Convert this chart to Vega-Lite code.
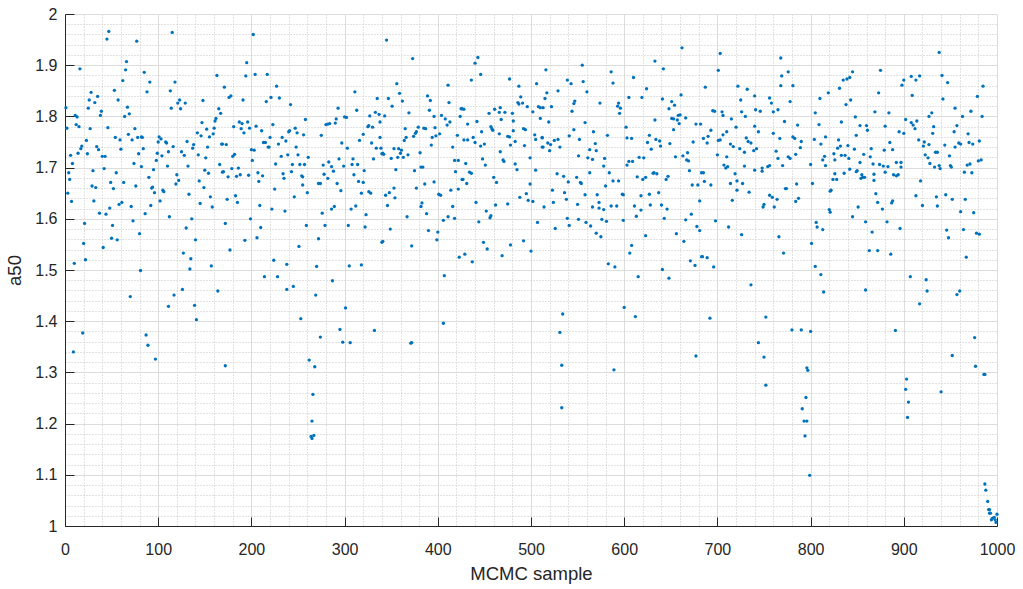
{
"$schema": "https://vega.github.io/schema/vega-lite/v6.json",
"width": 932, "height": 512,
"autosize": {"type": "none"},
"padding": {"left": 65, "top": 14, "right": 26, "bottom": 63},
"background": "white",
"config": {"view": {"stroke": null}, "font": "Liberation Sans"},
"data": {"values": [
{"s":1,"a":1.817},{"s":47,"a":1.966},{"s":45,"a":1.951},{"s":77,"a":1.947},{"s":16,"a":1.893},{"s":66,"a":1.907},{"s":65,"a":1.891},{"s":62,"a":1.870},{"s":53,"a":1.851},{"s":28,"a":1.847},{"s":35,"a":1.839},{"s":26,"a":1.832},{"s":57,"a":1.832},{"s":32,"a":1.827},{"s":25,"a":1.816},{"s":67,"a":1.818},{"s":39,"a":1.810},{"s":11,"a":1.802},{"s":13,"a":1.799},{"s":38,"a":1.802},{"s":64,"a":1.800},{"s":69,"a":1.805},{"s":2,"a":1.777},{"s":12,"a":1.784},{"s":15,"a":1.780},{"s":27,"a":1.776},{"s":46,"a":1.778},{"s":75,"a":1.776},{"s":54,"a":1.759},{"s":68,"a":1.765},{"s":78,"a":1.759},{"s":82,"a":1.760},{"s":59,"a":1.754},{"s":72,"a":1.754},{"s":23,"a":1.753},{"s":18,"a":1.742},{"s":17,"a":1.737},{"s":34,"a":1.741},{"s":36,"a":1.735},{"s":60,"a":1.736},{"s":6,"a":1.724},{"s":14,"a":1.728},{"s":24,"a":1.727},{"s":40,"a":1.722},{"s":43,"a":1.722},{"s":79,"a":1.727},{"s":8,"a":1.708},{"s":74,"a":1.708},{"s":82,"a":1.702},{"s":42,"a":1.698},{"s":4,"a":1.690},{"s":30,"a":1.694},{"s":55,"a":1.690},{"s":5,"a":1.677},{"s":49,"a":1.671},{"s":63,"a":1.671},{"s":29,"a":1.664},{"s":33,"a":1.661},{"s":76,"a":1.664},{"s":52,"a":1.659},{"s":3,"a":1.650},{"s":7,"a":1.634},{"s":31,"a":1.635},{"s":61,"a":1.632},{"s":58,"a":1.628},{"s":71,"a":1.624},{"s":48,"a":1.621},{"s":37,"a":1.611},{"s":44,"a":1.609},{"s":73,"a":1.596},{"s":21,"a":1.591},{"s":51,"a":1.587},{"s":80,"a":1.571},{"s":50,"a":1.562},{"s":56,"a":1.559},{"s":20,"a":1.552},{"s":41,"a":1.544},{"s":22,"a":1.520},{"s":10,"a":1.513},{"s":81,"a":1.499},{"s":70,"a":1.448},{"s":19,"a":1.377},{"s":9,"a":1.340},
{"s":115,"a":1.964},{"s":85,"a":1.886},{"s":91,"a":1.867},{"s":88,"a":1.848},{"s":118,"a":1.867},{"s":113,"a":1.850},{"s":123,"a":1.832},{"s":121,"a":1.826},{"s":129,"a":1.826},{"s":114,"a":1.816},{"s":124,"a":1.815},{"s":148,"a":1.831},{"s":163,"a":1.880},{"s":165,"a":1.815},{"s":167,"a":1.806},{"s":162,"a":1.796},{"s":161,"a":1.791},{"s":147,"a":1.788},{"s":152,"a":1.775},{"s":160,"a":1.777},{"s":142,"a":1.768},{"s":159,"a":1.766},{"s":155,"a":1.760},{"s":146,"a":1.762},{"s":83,"a":1.759},{"s":101,"a":1.760},{"s":103,"a":1.756},{"s":100,"a":1.750},{"s":108,"a":1.750},{"s":109,"a":1.748},{"s":131,"a":1.751},{"s":138,"a":1.745},{"s":116,"a":1.741},{"s":137,"a":1.738},{"s":153,"a":1.740},{"s":168,"a":1.746},{"s":84,"a":1.737},{"s":111,"a":1.731},{"s":125,"a":1.731},{"s":99,"a":1.728},{"s":104,"a":1.723},{"s":128,"a":1.724},{"s":143,"a":1.725},{"s":151,"a":1.719},{"s":98,"a":1.714},{"s":110,"a":1.703},{"s":132,"a":1.703},{"s":166,"a":1.706},{"s":150,"a":1.695},{"s":154,"a":1.689},{"s":120,"a":1.686},{"s":90,"a":1.681},{"s":122,"a":1.675},{"s":119,"a":1.668},{"s":144,"a":1.674},{"s":149,"a":1.661},{"s":94,"a":1.662},{"s":93,"a":1.660},{"s":96,"a":1.651},{"s":105,"a":1.656},{"s":106,"a":1.653},{"s":95,"a":1.696},{"s":156,"a":1.643},{"s":133,"a":1.648},{"s":102,"a":1.635},{"s":145,"a":1.630},{"s":158,"a":1.623},{"s":92,"a":1.626},{"s":86,"a":1.610},{"s":112,"a":1.604},{"s":136,"a":1.600},{"s":130,"a":1.582},{"s":140,"a":1.559},{"s":127,"a":1.533},{"s":135,"a":1.522},{"s":157,"a":1.508},{"s":134,"a":1.502},{"s":164,"a":1.459},{"s":126,"a":1.462},{"s":117,"a":1.451},{"s":111,"a":1.429},{"s":139,"a":1.431},{"s":141,"a":1.403},{"s":87,"a":1.373},{"s":89,"a":1.353},{"s":97,"a":1.326},{"s":169,"a":1.691},
{"s":202,"a":1.960},{"s":195,"a":1.905},{"s":194,"a":1.879},{"s":204,"a":1.882},{"s":217,"a":1.882},{"s":171,"a":1.857},{"s":227,"a":1.859},{"s":176,"a":1.837},{"s":178,"a":1.840},{"s":191,"a":1.832},{"s":216,"a":1.829},{"s":221,"a":1.837},{"s":230,"a":1.836},{"s":242,"a":1.823},{"s":181,"a":1.780},{"s":187,"a":1.789},{"s":190,"a":1.786},{"s":196,"a":1.789},{"s":189,"a":1.776},{"s":192,"a":1.768},{"s":198,"a":1.777},{"s":205,"a":1.781},{"s":211,"a":1.772},{"s":223,"a":1.784},{"s":220,"a":1.759},{"s":233,"a":1.759},{"s":237,"a":1.752},{"s":240,"a":1.770},{"s":241,"a":1.772},{"s":247,"a":1.777},{"s":249,"a":1.768},{"s":169,"a":1.746},{"s":173,"a":1.745},{"s":213,"a":1.749},{"s":215,"a":1.749},{"s":218,"a":1.740},{"s":219,"a":1.740},{"s":229,"a":1.746},{"s":248,"a":1.740},{"s":200,"a":1.735},{"s":203,"a":1.734},{"s":182,"a":1.726},{"s":180,"a":1.722},{"s":232,"a":1.722},{"s":239,"a":1.725},{"s":250,"a":1.725},{"s":201,"a":1.714},{"s":226,"a":1.707},{"s":244,"a":1.706},{"s":252,"a":1.706},{"s":179,"a":1.698},{"s":186,"a":1.699},{"s":170,"a":1.692},{"s":175,"a":1.682},{"s":184,"a":1.683},{"s":188,"a":1.686},{"s":197,"a":1.685},{"s":207,"a":1.690},{"s":212,"a":1.684},{"s":208,"a":1.673},{"s":234,"a":1.688},{"s":235,"a":1.679},{"s":243,"a":1.692},{"s":254,"a":1.684},{"s":225,"a":1.658},{"s":183,"a":1.645},{"s":174,"a":1.638},{"s":185,"a":1.632},{"s":246,"a":1.643},{"s":209,"a":1.626},{"s":222,"a":1.619},{"s":236,"a":1.615},{"s":199,"a":1.600},{"s":172,"a":1.591},{"s":210,"a":1.583},{"s":193,"a":1.558},{"s":206,"a":1.563},{"s":177,"a":1.539},{"s":251,"a":1.546},{"s":224,"a":1.519},{"s":238,"a":1.511},{"s":214,"a":1.487},{"s":228,"a":1.487},{"s":238,"a":1.462},{"s":245,"a":1.468},{"s":253,"a":1.405},{"s":172,"a":1.313},
{"s":311,"a":1.848},{"s":335,"a":1.835},{"s":293,"a":1.816},{"s":313,"a":1.812},{"s":333,"a":1.808},{"s":337,"a":1.804},{"s":258,"a":1.794},{"s":300,"a":1.799},{"s":302,"a":1.798},{"s":291,"a":1.795},{"s":327,"a":1.801},{"s":290,"a":1.787},{"s":284,"a":1.786},{"s":280,"a":1.784},{"s":282,"a":1.785},{"s":325,"a":1.780},{"s":326,"a":1.782},{"s":330,"a":1.779},{"s":338,"a":1.789},{"s":256,"a":1.764},{"s":275,"a":1.763},{"s":320,"a":1.765},{"s":297,"a":1.748},{"s":316,"a":1.753},{"s":329,"a":1.748},{"s":338,"a":1.759},{"s":303,"a":1.738},{"s":334,"a":1.738},{"s":339,"a":1.738},{"s":261,"a":1.720},{"s":331,"a":1.717},{"s":340,"a":1.727},{"s":294,"a":1.717},{"s":309,"a":1.717},{"s":283,"a":1.711},{"s":277,"a":1.705},{"s":286,"a":1.702},{"s":299,"a":1.703},{"s":308,"a":1.706},{"s":314,"a":1.706},{"s":257,"a":1.706},{"s":288,"a":1.693},{"s":321,"a":1.694},{"s":278,"a":1.687},{"s":310,"a":1.686},{"s":255,"a":1.682},{"s":282,"a":1.679},{"s":315,"a":1.673},{"s":320,"a":1.671},{"s":255,"a":1.666},{"s":272,"a":1.669},{"s":274,"a":1.669},{"s":292,"a":1.669},{"s":296,"a":1.655},{"s":260,"a":1.651},{"s":318,"a":1.650},{"s":326,"a":1.653},{"s":328,"a":1.650},{"s":289,"a":1.624},{"s":286,"a":1.619},{"s":312,"a":1.625},{"s":307,"a":1.619},{"s":276,"a":1.611},{"s":323,"a":1.608},{"s":259,"a":1.587},{"s":279,"a":1.587},{"s":304,"a":1.587},{"s":322,"a":1.584},{"s":272,"a":1.561},{"s":270,"a":1.507},{"s":305,"a":1.508},{"s":318,"a":1.510},{"s":287,"a":1.479},{"s":269,"a":1.451},{"s":301,"a":1.426},{"s":295,"a":1.384},{"s":332,"a":1.382},{"s":274,"a":1.369},{"s":298,"a":1.359},{"s":306,"a":1.358},{"s":262,"a":1.324},{"s":268,"a":1.311},{"s":266,"a":1.257},{"s":265,"a":1.205},{"s":264,"a":1.175},{"s":267,"a":1.177},{"s":265,"a":1.171},{"s":340,"a":1.554},
{"s":345,"a":1.949},{"s":373,"a":1.913},{"s":356,"a":1.864},{"s":411,"a":1.861},{"s":359,"a":1.845},{"s":347,"a":1.835},{"s":389,"a":1.840},{"s":392,"a":1.831},{"s":362,"a":1.830},{"s":412,"a":1.827},{"s":351,"a":1.820},{"s":391,"a":1.812},{"s":369,"a":1.807},{"s":425,"a":1.815},{"s":343,"a":1.801},{"s":396,"a":1.800},{"s":404,"a":1.802},{"s":424,"a":1.800},{"s":408,"a":1.795},{"s":413,"a":1.789},{"s":410,"a":1.783},{"s":379,"a":1.779},{"s":385,"a":1.777},{"s":387,"a":1.776},{"s":365,"a":1.776},{"s":397,"a":1.778},{"s":377,"a":1.770},{"s":376,"a":1.767},{"s":402,"a":1.766},{"s":421,"a":1.763},{"s":366,"a":1.759},{"s":374,"a":1.761},{"s":394,"a":1.759},{"s":398,"a":1.762},{"s":364,"a":1.753},{"s":393,"a":1.744},{"s":416,"a":1.740},{"s":341,"a":1.728},{"s":342,"a":1.726},{"s":353,"a":1.737},{"s":358,"a":1.737},{"s":361,"a":1.734},{"s":360,"a":1.728},{"s":368,"a":1.725},{"s":381,"a":1.729},{"s":350,"a":1.718},{"s":357,"a":1.720},{"s":363,"a":1.720},{"s":418,"a":1.714},{"s":422,"a":1.714},{"s":382,"a":1.701},{"s":384,"a":1.701},{"s":355,"a":1.696},{"s":375,"a":1.694},{"s":419,"a":1.692},{"s":426,"a":1.677},{"s":396,"a":1.672},{"s":386,"a":1.668},{"s":377,"a":1.660},{"s":353,"a":1.660},{"s":348,"a":1.651},{"s":344,"a":1.646},{"s":354,"a":1.641},{"s":401,"a":1.648},{"s":403,"a":1.646},{"s":414,"a":1.656},{"s":422,"a":1.658},{"s":383,"a":1.631},{"s":382,"a":1.624},{"s":346,"a":1.626},{"s":416,"a":1.624},{"s":388,"a":1.610},{"s":367,"a":1.604},{"s":411,"a":1.604},{"s":418,"a":1.601},{"s":406,"a":1.597},{"s":349,"a":1.580},{"s":390,"a":1.577},{"s":400,"a":1.574},{"s":399,"a":1.559},{"s":341,"a":1.556},{"s":372,"a":1.547},{"s":423,"a":1.525},{"s":407,"a":1.489},{"s":406,"a":1.396},{"s":371,"a":1.357},{"s":372,"a":1.358},
{"s":443,"a":1.915},{"s":440,"a":1.904},{"s":446,"a":1.882},{"s":477,"a":1.873},{"s":436,"a":1.871},{"s":487,"a":1.859},{"s":506,"a":1.864},{"s":489,"a":1.838},{"s":486,"a":1.827},{"s":487,"a":1.824},{"s":491,"a":1.826},{"s":496,"a":1.819},{"s":508,"a":1.819},{"s":510,"a":1.817},{"s":426,"a":1.815},{"s":428,"a":1.814},{"s":461,"a":1.814},{"s":467,"a":1.817},{"s":466,"a":1.808},{"s":472,"a":1.808},{"s":480,"a":1.806},{"s":455,"a":1.806},{"s":502,"a":1.809},{"s":468,"a":1.794},{"s":481,"a":1.791},{"s":442,"a":1.790},{"s":432,"a":1.785},{"s":510,"a":1.796},{"s":457,"a":1.780},{"s":458,"a":1.776},{"s":459,"a":1.773},{"s":447,"a":1.770},{"s":466,"a":1.766},{"s":481,"a":1.772},{"s":492,"a":1.776},{"s":494,"a":1.774},{"s":475,"a":1.761},{"s":477,"a":1.760},{"s":504,"a":1.764},{"s":438,"a":1.759},{"s":428,"a":1.754},{"s":432,"a":1.754},{"s":440,"a":1.749},{"s":483,"a":1.751},{"s":505,"a":1.755},{"s":512,"a":1.758},{"s":450,"a":1.746},{"s":446,"a":1.742},{"s":478,"a":1.744},{"s":493,"a":1.743},{"s":512,"a":1.740},{"s":467,"a":1.731},{"s":499,"a":1.719},{"s":448,"a":1.717},{"s":470,"a":1.715},{"s":471,"a":1.712},{"s":430,"a":1.708},{"s":451,"a":1.705},{"s":483,"a":1.707},{"s":485,"a":1.696},{"s":505,"a":1.695},{"s":434,"a":1.691},{"s":436,"a":1.689},{"s":460,"a":1.681},{"s":427,"a":1.677},{"s":431,"a":1.669},{"s":463,"a":1.671},{"s":499,"a":1.668},{"s":495,"a":1.649},{"s":488,"a":1.642},{"s":497,"a":1.636},{"s":502,"a":1.634},{"s":441,"a":1.632},{"s":475,"a":1.629},{"s":462,"a":1.627},{"s":452,"a":1.615},{"s":457,"a":1.606},{"s":456,"a":1.602},{"s":444,"a":1.594},{"s":507,"a":1.593},{"s":449,"a":1.554},{"s":492,"a":1.557},{"s":453,"a":1.541},{"s":478,"a":1.549},{"s":500,"a":1.537},{"s":469,"a":1.528},{"s":429,"a":1.531},{"s":437,"a":1.516},
{"s":555,"a":1.900},{"s":516,"a":1.891},{"s":586,"a":1.887},{"s":539,"a":1.871},{"s":543,"a":1.864},{"s":556,"a":1.868},{"s":588,"a":1.865},{"s":529,"a":1.850},{"s":517,"a":1.846},{"s":560,"a":1.848},{"s":515,"a":1.835},{"s":547,"a":1.830},{"s":546,"a":1.825},{"s":574,"a":1.826},{"s":594,"a":1.826},{"s":513,"a":1.817},{"s":522,"a":1.819},{"s":544,"a":1.810},{"s":593,"a":1.820},{"s":596,"a":1.816},{"s":595,"a":1.806},{"s":519,"a":1.789},{"s":558,"a":1.788},{"s":546,"a":1.774},{"s":567,"a":1.770},{"s":541,"a":1.762},{"s":582,"a":1.763},{"s":512,"a":1.759},{"s":529,"a":1.755},{"s":552,"a":1.755},{"s":525,"a":1.753},{"s":518,"a":1.748},{"s":521,"a":1.745},{"s":569,"a":1.747},{"s":513,"a":1.740},{"s":531,"a":1.740},{"s":563,"a":1.735},{"s":570,"a":1.733},{"s":520,"a":1.733},{"s":551,"a":1.723},{"s":561,"a":1.719},{"s":566,"a":1.716},{"s":579,"a":1.718},{"s":578,"a":1.703},{"s":563,"a":1.690},{"s":584,"a":1.690},{"s":528,"a":1.688},{"s":535,"a":1.683},{"s":549,"a":1.681},{"s":540,"a":1.672},{"s":553,"a":1.671},{"s":554,"a":1.669},{"s":588,"a":1.674},{"s":594,"a":1.674},{"s":580,"a":1.664},{"s":523,"a":1.656},{"s":536,"a":1.651},{"s":558,"a":1.647},{"s":571,"a":1.647},{"s":598,"a":1.648},{"s":538,"a":1.638},{"s":573,"a":1.632},{"s":524,"a":1.632},{"s":550,"a":1.628},{"s":566,"a":1.623},{"s":586,"a":1.625},{"s":592,"a":1.625},{"s":573,"a":1.621},{"s":578,"a":1.618},{"s":514,"a":1.623},{"s":539,"a":1.601},{"s":541,"a":1.587},{"s":551,"a":1.599},{"s":559,"a":1.593},{"s":564,"a":1.586},{"s":576,"a":1.599},{"s":581,"a":1.595},{"s":526,"a":1.581},{"s":570,"a":1.572},{"s":575,"a":1.565},{"s":583,"a":1.512},{"s":590,"a":1.506},{"s":534,"a":1.414},{"s":531,"a":1.378},{"s":533,"a":1.314},{"s":589,"a":1.305},{"s":533,"a":1.231},
{"s":662,"a":1.934},{"s":633,"a":1.908},{"s":642,"a":1.893},{"s":610,"a":1.876},{"s":624,"a":1.854},{"s":661,"a":1.842},{"s":605,"a":1.837},{"s":619,"a":1.837},{"s":641,"a":1.834},{"s":651,"a":1.829},{"s":654,"a":1.822},{"s":648,"a":1.815},{"s":658,"a":1.802},{"s":660,"a":1.803},{"s":666,"a":1.797},{"s":651,"a":1.796},{"s":653,"a":1.795},{"s":657,"a":1.793},{"s":633,"a":1.793},{"s":659,"a":1.786},{"s":677,"a":1.785},{"s":682,"a":1.785},{"s":602,"a":1.779},{"s":653,"a":1.774},{"s":627,"a":1.763},{"s":603,"a":1.758},{"s":608,"a":1.757},{"s":634,"a":1.755},{"s":638,"a":1.752},{"s":625,"a":1.749},{"s":674,"a":1.750},{"s":649,"a":1.747},{"s":639,"a":1.742},{"s":629,"a":1.736},{"s":668,"a":1.729},{"s":663,"a":1.723},{"s":655,"a":1.721},{"s":616,"a":1.720},{"s":621,"a":1.719},{"s":667,"a":1.715},{"s":669,"a":1.713},{"s":605,"a":1.712},{"s":609,"a":1.712},{"s":603,"a":1.705},{"s":670,"a":1.694},{"s":683,"a":1.690},{"s":631,"a":1.689},{"s":632,"a":1.690},{"s":635,"a":1.688},{"s":614,"a":1.682},{"s":623,"a":1.681},{"s":620,"a":1.677},{"s":647,"a":1.683},{"s":645,"a":1.677},{"s":673,"a":1.666},{"s":679,"a":1.666},{"s":637,"a":1.651},{"s":627,"a":1.648},{"s":599,"a":1.647},{"s":618,"a":1.645},{"s":681,"a":1.635},{"s":611,"a":1.625},{"s":628,"a":1.627},{"s":640,"a":1.627},{"s":618,"a":1.617},{"s":646,"a":1.619},{"s":672,"a":1.609},{"s":613,"a":1.605},{"s":643,"a":1.601},{"s":666,"a":1.598},{"s":599,"a":1.597},{"s":678,"a":1.585},{"s":681,"a":1.577},{"s":656,"a":1.571},{"s":623,"a":1.567},{"s":664,"a":1.556},{"s":608,"a":1.548},{"s":606,"a":1.533},{"s":683,"a":1.526},{"s":671,"a":1.518},{"s":676,"a":1.509},{"s":641,"a":1.501},{"s":648,"a":1.484},{"s":615,"a":1.487},{"s":600,"a":1.427},{"s":612,"a":1.409},{"s":677,"a":1.332},
{"s":703,"a":1.923},{"s":768,"a":1.914},{"s":701,"a":1.890},{"s":768,"a":1.860},{"s":687,"a":1.857},{"s":722,"a":1.859},{"s":732,"a":1.853},{"s":740,"a":1.840},{"s":756,"a":1.836},{"s":725,"a":1.832},{"s":758,"a":1.826},{"s":695,"a":1.811},{"s":697,"a":1.810},{"s":705,"a":1.809},{"s":706,"a":1.802},{"s":726,"a":1.809},{"s":741,"a":1.813},{"s":746,"a":1.810},{"s":760,"a":1.809},{"s":765,"a":1.813},{"s":730,"a":1.800},{"s":715,"a":1.795},{"s":740,"a":1.781},{"s":720,"a":1.779},{"s":693,"a":1.773},{"s":744,"a":1.770},{"s":710,"a":1.770},{"s":760,"a":1.767},{"s":706,"a":1.764},{"s":685,"a":1.757},{"s":690,"a":1.761},{"s":689,"a":1.748},{"s":731,"a":1.758},{"s":733,"a":1.751},{"s":736,"a":1.748},{"s":714,"a":1.746},{"s":717,"a":1.741},{"s":724,"a":1.737},{"s":729,"a":1.730},{"s":739,"a":1.733},{"s":742,"a":1.737},{"s":763,"a":1.732},{"s":767,"a":1.757},{"s":701,"a":1.753},{"s":703,"a":1.754},{"s":700,"a":1.725},{"s":710,"a":1.721},{"s":765,"a":1.718},{"s":707,"a":1.705},{"s":711,"a":1.702},{"s":709,"a":1.699},{"s":729,"a":1.703},{"s":748,"a":1.699},{"s":754,"a":1.702},{"s":756,"a":1.704},{"s":740,"a":1.695},{"s":748,"a":1.693},{"s":685,"a":1.690},{"s":719,"a":1.688},{"s":686,"a":1.673},{"s":721,"a":1.674},{"s":714,"a":1.669},{"s":727,"a":1.669},{"s":693,"a":1.666},{"s":721,"a":1.656},{"s":734,"a":1.652},{"s":756,"a":1.646},{"s":759,"a":1.642},{"s":764,"a":1.638},{"s":750,"a":1.628},{"s":749,"a":1.623},{"s":761,"a":1.623},{"s":716,"a":1.636},{"s":698,"a":1.596},{"s":712,"a":1.584},{"s":726,"a":1.569},{"s":766,"a":1.565},{"s":684,"a":1.526},{"s":689,"a":1.524},{"s":696,"a":1.506},{"s":736,"a":1.471},{"s":692,"a":1.406},{"s":752,"a":1.408},{"s":744,"a":1.358},{"s":750,"a":1.330},{"s":752,"a":1.275},
{"s":776,"a":1.887},{"s":769,"a":1.879},{"s":781,"a":1.860},{"s":845,"a":1.887},{"s":842,"a":1.876},{"s":839,"a":1.873},{"s":835,"a":1.871},{"s":831,"a":1.855},{"s":819,"a":1.846},{"s":810,"a":1.835},{"s":843,"a":1.832},{"s":778,"a":1.829},{"s":838,"a":1.823},{"s":805,"a":1.807},{"s":848,"a":1.799},{"s":772,"a":1.790},{"s":786,"a":1.783},{"s":809,"a":1.784},{"s":833,"a":1.789},{"s":853,"a":1.782},{"s":849,"a":1.763},{"s":816,"a":1.760},{"s":781,"a":1.760},{"s":783,"a":1.757},{"s":804,"a":1.755},{"s":830,"a":1.754},{"s":790,"a":1.751},{"s":811,"a":1.746},{"s":840,"a":1.743},{"s":832,"a":1.742},{"s":789,"a":1.739},{"s":829,"a":1.738},{"s":847,"a":1.736},{"s":825,"a":1.727},{"s":784,"a":1.726},{"s":833,"a":1.724},{"s":837,"a":1.724},{"s":815,"a":1.722},{"s":776,"a":1.721},{"s":778,"a":1.718},{"s":841,"a":1.718},{"s":813,"a":1.715},{"s":826,"a":1.715},{"s":853,"a":1.710},{"s":850,"a":1.694},{"s":849,"a":1.692},{"s":855,"a":1.686},{"s":842,"a":1.697},{"s":816,"a":1.704},{"s":800,"a":1.706},{"s":770,"a":1.704},{"s":826,"a":1.688},{"s":836,"a":1.689},{"s":824,"a":1.677},{"s":828,"a":1.677},{"s":854,"a":1.679},{"s":785,"a":1.668},{"s":802,"a":1.669},{"s":773,"a":1.659},{"s":774,"a":1.659},{"s":821,"a":1.654},{"s":822,"a":1.656},{"s":787,"a":1.640},{"s":784,"a":1.634},{"s":851,"a":1.623},{"s":845,"a":1.604},{"s":820,"a":1.618},{"s":821,"a":1.613},{"s":806,"a":1.593},{"s":807,"a":1.584},{"s":813,"a":1.579},{"s":801,"a":1.552},{"s":771,"a":1.533},{"s":805,"a":1.507},{"s":811,"a":1.491},{"s":814,"a":1.457},{"s":780,"a":1.383},{"s":790,"a":1.383},{"s":800,"a":1.380},{"s":796,"a":1.309},{"s":797,"a":1.304},{"s":795,"a":1.251},{"s":791,"a":1.229},{"s":793,"a":1.205},{"s":796,"a":1.205},{"s":794,"a":1.176},{"s":799,"a":1.099},
{"s":938,"a":1.925},{"s":875,"a":1.890},{"s":941,"a":1.880},{"s":908,"a":1.878},{"s":917,"a":1.879},{"s":900,"a":1.871},{"s":913,"a":1.871},{"s":898,"a":1.861},{"s":909,"a":1.841},{"s":873,"a":1.846},{"s":869,"a":1.809},{"s":884,"a":1.807},{"s":930,"a":1.807},{"s":927,"a":1.800},{"s":902,"a":1.794},{"s":908,"a":1.788},{"s":910,"a":1.783},{"s":914,"a":1.791},{"s":912,"a":1.776},{"s":932,"a":1.780},{"s":860,"a":1.782},{"s":880,"a":1.781},{"s":861,"a":1.773},{"s":895,"a":1.770},{"s":900,"a":1.767},{"s":931,"a":1.767},{"s":916,"a":1.754},{"s":922,"a":1.750},{"s":885,"a":1.749},{"s":921,"a":1.742},{"s":927,"a":1.745},{"s":865,"a":1.737},{"s":879,"a":1.734},{"s":888,"a":1.735},{"s":857,"a":1.726},{"s":934,"a":1.730},{"s":936,"a":1.730},{"s":864,"a":1.721},{"s":923,"a":1.725},{"s":926,"a":1.719},{"s":928,"a":1.708},{"s":892,"a":1.710},{"s":874,"a":1.706},{"s":878,"a":1.703},{"s":883,"a":1.702},{"s":867,"a":1.707},{"s":897,"a":1.701},{"s":897,"a":1.710},{"s":938,"a":1.704},{"s":939,"a":1.698},{"s":933,"a":1.701},{"s":880,"a":1.691},{"s":868,"a":1.687},{"s":889,"a":1.686},{"s":892,"a":1.684},{"s":894,"a":1.686},{"s":856,"a":1.681},{"s":858,"a":1.681},{"s":868,"a":1.675},{"s":918,"a":1.674},{"s":870,"a":1.649},{"s":913,"a":1.645},{"s":935,"a":1.643},{"s":872,"a":1.632},{"s":887,"a":1.631},{"s":888,"a":1.635},{"s":920,"a":1.626},{"s":936,"a":1.625},{"s":877,"a":1.619},{"s":859,"a":1.594},{"s":882,"a":1.594},{"s":896,"a":1.581},{"s":866,"a":1.574},{"s":863,"a":1.538},{"s":872,"a":1.538},{"s":886,"a":1.531},{"s":907,"a":1.487},{"s":924,"a":1.481},{"s":925,"a":1.459},{"s":859,"a":1.461},{"s":917,"a":1.434},{"s":891,"a":1.382},{"s":903,"a":1.287},{"s":902,"a":1.267},{"s":905,"a":1.242},{"s":904,"a":1.212},{"s":940,"a":1.262},
{"s":947,"a":1.866},{"s":985,"a":1.859},{"s":942,"a":1.834},{"s":979,"a":1.839},{"s":955,"a":1.816},{"s":972,"a":1.810},{"s":963,"a":1.800},{"s":984,"a":1.800},{"s":957,"a":1.782},{"s":954,"a":1.770},{"s":969,"a":1.766},{"s":944,"a":1.744},{"s":955,"a":1.740},{"s":959,"a":1.748},{"s":961,"a":1.746},{"s":970,"a":1.749},{"s":974,"a":1.746},{"s":981,"a":1.752},{"s":949,"a":1.723},{"s":980,"a":1.713},{"s":983,"a":1.715},{"s":950,"a":1.704},{"s":951,"a":1.701},{"s":968,"a":1.705},{"s":971,"a":1.707},{"s":965,"a":1.691},{"s":973,"a":1.690},{"s":945,"a":1.647},{"s":952,"a":1.638},{"s":966,"a":1.638},{"s":961,"a":1.614},{"s":975,"a":1.612},{"s":946,"a":1.578},{"s":964,"a":1.579},{"s":978,"a":1.572},{"s":981,"a":1.570},{"s":948,"a":1.563},{"s":967,"a":1.525},{"s":957,"a":1.452},{"s":960,"a":1.459},{"s":976,"a":1.368},{"s":952,"a":1.333},{"s":977,"a":1.312},{"s":986,"a":1.296},{"s":987,"a":1.296},{"s":987,"a":1.082},{"s":988,"a":1.070},{"s":990,"a":1.048},{"s":991,"a":1.032},{"s":992,"a":1.032},{"s":992,"a":1.025},{"s":993,"a":1.025},{"s":995,"a":1.015},{"s":997,"a":1.017},{"s":998,"a":1.012},{"s":999,"a":1.007},{"s":1000,"a":1.023},{"s":994,"a":1.012}
]},
"layer": [
{
"mark": {"type": "point", "opacity": 0},
"encoding": {
"x": {"field": "s", "type": "quantitative", "scale": {"domain": [0, 1000], "nice": false, "zero": false},
"axis": {"orient": "bottom", "values": [20,40,60,80,120,140,160,180,220,240,260,280,320,340,360,380,420,440,460,480,520,540,560,580,620,640,660,680,720,740,760,780,820,840,860,880,920,940,960,980], "grid": true, "gridColor": "#c4c4c4", "gridDash": [1, 2], "gridWidth": 1, "labels": false, "ticks": false, "domain": false, "title": null}},
"y": {"field": "a", "type": "quantitative", "scale": {"domain": [1, 2], "nice": false, "zero": false},
"axis": {"orient": "left", "values": [1.02,1.04,1.06,1.08,1.12,1.14,1.16,1.18,1.22,1.24,1.26,1.28,1.32,1.34,1.36,1.38,1.42,1.44,1.46,1.48,1.52,1.54,1.56,1.58,1.62,1.64,1.66,1.68,1.72,1.74,1.76,1.78,1.82,1.84,1.86,1.88,1.92,1.94,1.96,1.98], "grid": true, "gridColor": "#c4c4c4", "gridDash": [1, 2], "gridWidth": 1, "labels": false, "ticks": false, "domain": false, "title": null}}
}
},
{
"mark": {"type": "circle", "size": 11, "color": "#0072BD", "opacity": 1},
"encoding": {
"x": {"field": "s", "type": "quantitative", "scale": {"domain": [0, 1000], "nice": false, "zero": false},
"axis": {"orient": "bottom", "values": [0,100,200,300,400,500,600,700,800,900,1000], "format": "d", "grid": true, "gridColor": "#dcdcdc", "gridWidth": 1, "domainColor": "#262626", "domainWidth": 1, "tickColor": "#262626", "tickSize": -9, "labelPadding": 24, "labelFlush": false, "labelFont": "Liberation Sans", "labelFontSize": 16, "labelColor": "#262626", "title": "MCMC sample", "titleFont": "Liberation Sans", "titleFontSize": 18.5, "titleFontWeight": "normal", "titleColor": "#262626", "titlePadding": 7}},
"y": {"field": "a", "type": "quantitative", "scale": {"domain": [1, 2], "nice": false, "zero": false},
"axis": {"orient": "left", "values": [1,1.1,1.2,1.3,1.4,1.5,1.6,1.7,1.8,1.9,2], "format": "~g", "grid": true, "gridColor": "#dcdcdc", "gridWidth": 1, "domainColor": "#262626", "domainWidth": 1, "tickColor": "#262626", "tickSize": -9, "labelPadding": 17, "labelFlush": false, "labelFont": "Liberation Sans", "labelFontSize": 16, "labelColor": "#262626", "title": "a50", "titleFont": "Liberation Sans", "titleFontSize": 18.5, "titleFontWeight": "normal", "titleColor": "#262626", "titlePadding": 10}}
}
}
],
"resolve": {"axis": {"x": "independent", "y": "independent"}}
}
